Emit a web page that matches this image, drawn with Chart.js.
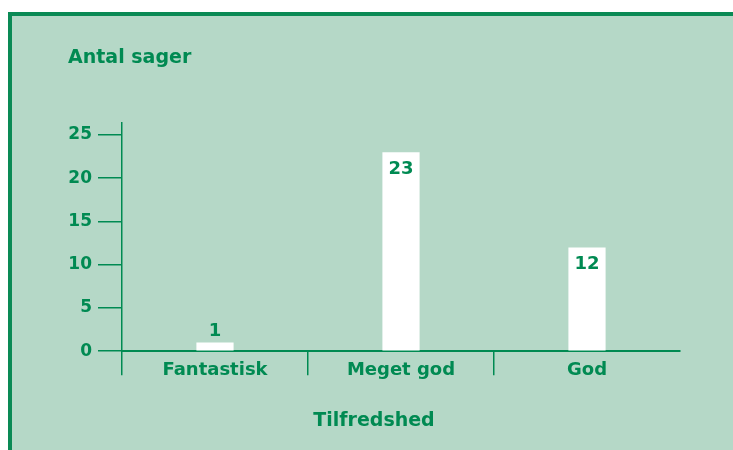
<!DOCTYPE html>
<html>
<head>
<meta charset="utf-8">
<script src="https://cdn.jsdelivr.net/npm/chart.js@4/dist/chart.umd.min.js"></script>
<style>
  html, body { margin: 0; padding: 0; background: #fff; }
  #wrap { position: relative; width: 733px; height: 450px; overflow: hidden; background: #fff; }
  #frame { position: absolute; left: 8px; top: 12px; width: 800px; height: 500px;
           border-left: 4px solid #0a8a55; border-top: 4px solid #0a8a55; background: #b5d8c7; }
  #Chart1 { position: absolute; left: 0; top: 0; }
</style>
</head>
<body>
<div id="wrap">
  <div id="frame"></div>
  <canvas id="Chart1" width="733" height="450"></canvas>
</div>
<script>
const green = '#008a52';
const font = 'DejaVu Sans, Liberation Sans, Arial, sans-serif';

const categories = ['Fantastisk', 'Meget god', 'God'];
const counts = [1, 23, 12];
const yTicks = [0, 5, 10, 15, 20, 25];

// tal paa soejlerne: inde i toppen, eller over hvis soejlen er lav
const valueLabels = {
    id: 'valueLabels',
    afterDatasetsDraw(chart) {
        const ctx = chart.ctx;
        const meta = chart.getDatasetMeta(0);
        ctx.save();
        ctx.fillStyle = green;
        ctx.font = 'bold 18px ' + font;
        ctx.textAlign = 'center';
        meta.data.forEach((bar, i) => {
            const v = counts[i];
            if (v >= 5) {
                ctx.textBaseline = 'top';
                ctx.fillText(String(v), bar.x, bar.y + 8);
            } else {
                ctx.textBaseline = 'bottom';
                ctx.fillText(String(v), bar.x, bar.y - 2);
            }
        });
        ctx.restore();
    }
};

new Chart(document.getElementById('Chart1').getContext('2d'), {
    type: 'bar',
    data: {
        labels: categories,
        datasets: [{
            data: counts,
            backgroundColor: '#ffffff',
            borderWidth: 0,
            barPercentage: 0.2,
            categoryPercentage: 1
        }]
    },
    options: {
        responsive: false,
        animation: false,
        layout: { padding: { left: 68, right: 53, top: 46, bottom: 0 } },
        plugins: {
            legend: { display: false },
            tooltip: { enabled: false },
            title: {
                display: true,
                text: 'Antal sager',
                align: 'start',
                color: green,
                font: { family: font, size: 19, weight: 'bold', lineHeight: 1.2 },
                padding: { top: 1, bottom: 53 }
            },
            subtitle: {
                display: true,
                position: 'bottom',
                text: 'Tilfredshed',
                align: 'center',
                color: green,
                font: { family: font, size: 19, weight: 'bold', lineHeight: 1.2 },
                padding: { top: 22, bottom: 18 }
            }
        },
        scales: {
            x: {
                offset: true,
                grid: {
                    offset: true,
                    drawOnChartArea: false,
                    tickLength: 24,
                    lineWidth: 1.5,
                    color: (c) => c.type === 'tick' ? green : 'rgba(0,0,0,0)'
                },
                border: { display: true, color: green, width: 2 },
                ticks: {
                    color: green,
                    padding: -16,
                    font: { family: font, size: 18, weight: 'bold' }
                },
                afterFit(scale) { scale.height = 36; }
            },
            y: {
                min: 0,
                max: 26.4,
                ticks: {
                    stepSize: 5,
                    color: green,
                    padding: 6,
                    font: { family: font, size: 17, weight: 'bold' }
                },
                afterBuildTicks(scale) {
                    scale.ticks = yTicks.map(v => ({ value: v }));
                },
                grid: {
                    drawOnChartArea: false,
                    tickLength: 24,
                    lineWidth: 1.5,
                    color: green
                },
                border: { display: true, color: green, width: 1.5 },
                afterFit(scale) { scale.width = 54; }
            }
        }
    },
    plugins: [valueLabels]
});
</script>
</body>
</html>
